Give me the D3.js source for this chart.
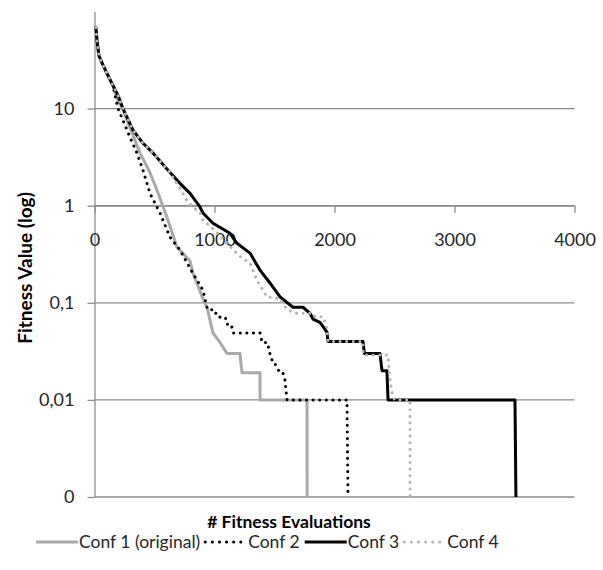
<!DOCTYPE html>
<html lang="en">
<head>
<meta charset="utf-8">
<script src="https://d3js.org/d3.v7.min.js"></script>
<title>Fitness Value (log)</title>
<style>
  body { margin: 0; background: #fff; }
  text { font-family: Lato, "Open Sans", sans-serif; }
</style>
</head>
<body>
<div id="plot"></div>
<script type="text/javascript">
// ticks
var xTicks = [0, 1000, 2000, 3000, 4000];
var yTicks = [0, 0.01, 0.1, 1, 10];
var yTickLabels = ["0", "0,01", "0,1", "1", "10"];
var yFloor = 0.001; // where "0" sits on the log axis

// series (fitness evaluations / fitness value)
var conf1Evals  = [12, 21, 37, 71, 112, 154, 196, 237, 271, 379, 462, 521, 604, 687, 796, 821, 904, 937, 987, 1046, 1104, 1212, 1229, 1379, 1380, 1771, 1772];
var conf1Values = [68, 50, 35, 28, 22, 17.3, 12, 10, 7.6, 3.5, 2.2, 1.44, 0.76, 0.375, 0.27, 0.2, 0.11, 0.09, 0.049, 0.039, 0.03, 0.03, 0.019, 0.019, 0.01, 0.01, 0];

var conf2Evals  = [12, 21, 37, 71, 112, 154, 196, 237, 296, 354, 404, 462, 546, 629, 712, 821, 904, 937, 970, 987, 1030, 1046, 1090, 1104, 1140, 1154, 1379, 1396, 1440, 1462, 1487, 1500, 1546, 1570, 1587, 1604, 2104, 2112];
var conf2Values = [68, 50, 35, 28, 22, 17.3, 10, 7.6, 5.06, 3.47, 2.32, 1.34, 0.84, 0.475, 0.35, 0.2, 0.135, 0.09, 0.09, 0.078, 0.078, 0.071, 0.071, 0.06, 0.06, 0.049, 0.049, 0.039, 0.039, 0.03, 0.024, 0.024, 0.019, 0.019, 0.016, 0.01, 0.01, 0];

var conf3Evals  = [12, 21, 37, 71, 112, 154, 196, 237, 321, 404, 487, 629, 712, 796, 879, 904, 987, 1129, 1187, 1296, 1379, 1462, 1546, 1654, 1737, 1796, 1821, 1879, 1937, 1946, 2237, 2250, 2379, 2396, 2437, 2446, 3504, 3512];
var conf3Values = [68, 50, 35, 28, 22, 17.3, 13.7, 10, 6.0, 4.4, 3.5, 2.2, 1.7, 1.34, 0.97, 0.84, 0.66, 0.52, 0.41, 0.325, 0.217, 0.16, 0.115, 0.09, 0.09, 0.078, 0.068, 0.063, 0.05, 0.04, 0.04, 0.03, 0.03, 0.02, 0.02, 0.01, 0.01, 0];

var conf4Evals  = [12, 21, 37, 71, 112, 154, 196, 237, 321, 404, 487, 629, 712, 771, 821, 879, 904, 1000, 1104, 1212, 1296, 1354, 1437, 1546, 1604, 1687, 1821, 1837, 1904, 1937, 1946, 2237, 2240, 2446, 2460, 2479, 2500, 2629, 2630];
var conf4Values = [68, 50, 35, 28, 22, 17.3, 13.7, 10, 6.0, 4.4, 3.5, 2.2, 1.5, 1.13, 0.97, 0.84, 0.71, 0.56, 0.41, 0.3, 0.256, 0.17, 0.115, 0.11, 0.085, 0.078, 0.078, 0.072, 0.072, 0.055, 0.04, 0.04, 0.029, 0.029, 0.017, 0.012, 0.01, 0.01, 0];

var seriesNames = ["Conf 1 (original)", "Conf 2", "Conf 3", "Conf 4"];

var series = [
  {name: seriesNames[0], evals: conf1Evals, values: conf1Values, color: "#a9a9a9", dash: null},
  {name: seriesNames[1], evals: conf2Evals, values: conf2Values, color: "#000000", dash: "0.1,6.5"},
  {name: seriesNames[2], evals: conf3Evals, values: conf3Values, color: "#000000", dash: null},
  {name: seriesNames[3], evals: conf4Evals, values: conf4Values, color: "#b4b4b4", dash: "0.1,6.5"}
];

// Plot
var margin = {top: 11.5, right: 28.5, bottom: 73, left: 94.5},
    width = 603 - margin.left - margin.right,
    height = 570 - margin.top - margin.bottom;

var svg = d3.select("#plot")
            .append("svg")
            .attr("width", 603)
            .attr("height", 570)
            .append("g")
            .attr("transform", "translate(" + margin.left + "," + margin.top + ")");

var x = d3.scaleLinear().domain([0, 4000]).range([0, width]);
var y = d3.scaleLog().domain([yFloor, 100]).range([height, 0]);
function yv(v) { return y(Math.max(v, yFloor)); }

var gridColor = "#8c8c8c";

// gridlines
svg.append("g")
   .selectAll("line")
   .data(yTicks)
   .enter().append("line")
   .attr("x1", 0).attr("x2", width)
   .attr("y1", function(d){ return yv(d); })
   .attr("y2", function(d){ return yv(d); })
   .attr("stroke", gridColor)
   .attr("stroke-width", 1.3);

// Y axis
var yAxis = svg.append("g")
   .call(d3.axisLeft(y)
          .tickValues(yTicks.map(function(d){ return Math.max(d, yFloor); }))
          .tickFormat(function(d, i){ return yTickLabels[i]; })
          .tickSize(7).tickSizeOuter(0).tickPadding(13));

// X axis, crossing at 1
var xAxis = svg.append("g")
   .attr("transform", "translate(0," + y(1) + ")")
   .call(d3.axisBottom(x).tickValues(xTicks).tickFormat(d3.format("d"))
          .tickSize(7).tickSizeOuter(0).tickPadding(21));

[yAxis, xAxis].forEach(function(a){
  a.select(".domain").attr("stroke", gridColor).attr("stroke-width", 1.3);
  a.selectAll(".tick line").attr("stroke", gridColor).attr("stroke-width", 1.3);
  a.selectAll(".tick text").attr("fill", "#262626").style("font-size", "18px")
   .style("font-family", "Lato, sans-serif");
});

// series lines
var line = d3.line()
  .x(function(d){ return x(d[0]); })
  .y(function(d){ return yv(d[1]); });

series.forEach(function(s){
  var pts = s.evals.map(function(e, i){ return [e, s.values[i]]; });
  svg.append("path")
     .datum(pts)
     .attr("d", line)
     .attr("fill", "none")
     .attr("stroke", s.color)
     .attr("stroke-width", 3)
     .attr("stroke-linejoin", "round")
     .attr("stroke-linecap", s.dash ? "round" : "butt")
     .attr("stroke-dasharray", s.dash);
});

// Axis titles
svg.append("text")
   .attr("text-anchor", "middle")
   .attr("x", 289 - margin.left)
   .attr("y", 528 - margin.top)
   .style("font-size", "17.5px")
   .style("font-weight", "bold")
   .attr("fill", "#000")
   .text("# Fitness Evaluations");

svg.append("text")
   .attr("text-anchor", "middle")
   .attr("transform", "translate(" + (32 - margin.left) + "," + (268 - margin.top) + ") rotate(-90)")
   .style("font-size", "19px")
   .style("font-weight", "bold")
   .attr("fill", "#000")
   .text("Fitness Value (log)");

// Legend
var legend = d3.select("svg").append("g");
var lx = 36, ly = 542;
series.forEach(function(s){
  legend.append("line")
        .attr("x1", lx).attr("x2", lx + 42)
        .attr("y1", ly).attr("y2", ly)
        .attr("stroke", s.color)
        .attr("stroke-width", 3)
        .attr("stroke-linecap", s.dash ? "round" : "butt")
        .attr("stroke-dasharray", s.dash ? "0.1,7" : null);
  var t = legend.append("text")
        .attr("x", lx + 43)
        .attr("y", ly)
        .attr("dy", "0.35em")
        .style("font-size", "17.5px")
        .attr("fill", "#262626")
        .text(s.name);
  lx += 43 + t.node().getComputedTextLength() + 5;
});
</script>
</body>
</html>
